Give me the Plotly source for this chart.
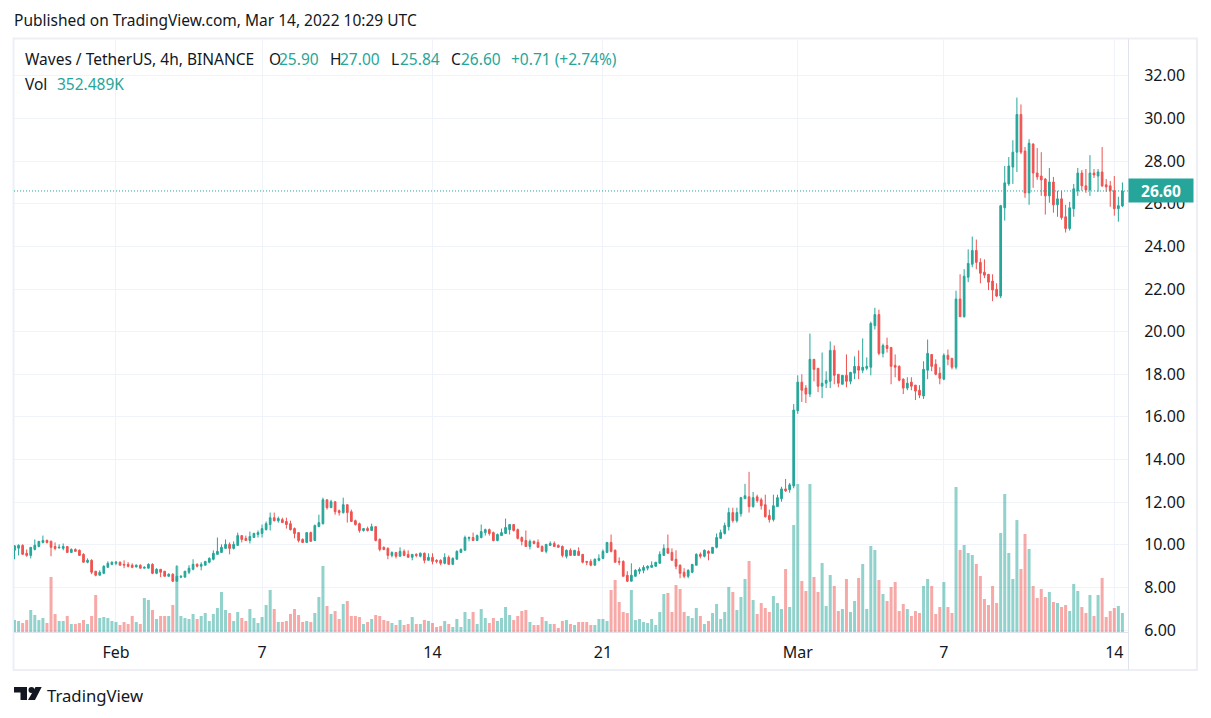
import plotly.graph_objects as go
from datetime import datetime, timedelta

opens = [
9.74,9.84,9.97,9.60,9.50,9.78,9.92,10.11,10.20,10.16,9.92,9.85,9.83,9.92,9.64,9.78,9.74,9.55,9.18,9.27,
8.76,8.57,8.66,8.94,9.08,9.13,9.18,9.08,9.08,9.04,8.96,9.04,8.90,8.90,9.08,8.66,8.85,8.76,8.52,8.62,
8.29,8.48,8.48,8.71,8.85,9.08,8.99,9.04,9.18,9.32,9.55,9.64,9.83,10.02,9.83,9.97,10.43,10.30,10.20,10.34,
10.48,10.53,10.71,10.95,11.27,11.13,11.18,11.09,10.99,10.76,10.57,10.25,10.11,10.57,10.20,10.85,10.99,12.11,11.74,12.02,
11.60,11.51,11.88,11.55,11.13,10.99,10.67,10.76,10.67,10.85,10.25,9.88,9.83,9.50,9.64,9.46,9.69,9.55,9.41,9.55,
9.46,9.60,9.27,9.41,9.27,9.27,9.13,9.41,9.08,9.32,9.64,9.74,10.30,10.34,10.20,10.34,10.57,10.71,10.57,10.20,
10.43,10.53,10.71,10.95,10.71,10.34,10.20,9.92,10.16,10.11,9.92,9.69,9.97,10.06,9.97,9.92,9.46,9.74,9.50,9.69,
9.55,9.22,9.22,9.04,9.27,9.36,9.64,10.11,9.74,9.22,9.22,8.57,8.29,8.52,8.76,8.80,8.90,8.94,8.99,9.13,
9.50,9.83,9.64,9.32,9.04,8.71,8.52,8.71,9.04,9.55,9.46,9.69,9.60,9.88,10.30,10.53,10.85,11.51,11.13,11.46,
12.16,12.25,11.79,12.25,12.11,11.88,11.37,11.18,11.79,12.16,12.62,12.58,12.76,16.29,17.63,17.35,17.07,18.70,18.28,17.44,
17.58,17.67,19.12,18.00,17.53,17.95,17.67,18.05,18.37,18.19,18.28,18.33,20.28,20.80,18.98,19.35,19.26,18.42,18.37,17.77,
17.35,17.63,17.49,17.25,16.98,18.19,18.93,18.47,18.05,17.77,18.89,18.75,18.33,21.53,20.70,22.55,23.16,23.81,23.25,22.79,
22.69,22.37,21.99,21.67,25.81,26.93,27.72,28.42,30.19,28.47,26.51,28.80,27.44,27.30,27.16,26.37,27.02,25.95,26.23,25.39,
24.84,25.77,26.61,27.44,26.84,26.65,27.44,27.30,27.49,26.89,26.84,26.61,25.77,25.90]

highs = [
9.98,10.02,10.02,9.78,9.88,10.25,10.16,10.43,10.25,10.20,10.11,10.02,10.06,9.92,9.83,9.83,9.78,9.60,9.36,9.32,
8.76,8.80,9.04,9.22,9.22,9.24,9.22,9.27,9.18,9.13,9.08,9.08,8.99,9.13,9.13,8.90,8.85,8.76,8.66,8.66,
9.04,8.57,8.76,9.04,9.32,9.13,9.18,9.22,9.41,9.74,10.34,10.02,10.25,10.11,10.16,10.57,10.43,10.43,10.62,10.57,
10.67,10.95,11.09,11.51,11.51,11.32,11.27,11.27,11.13,10.81,10.57,10.30,10.57,10.62,10.95,11.41,12.21,12.11,12.11,12.02,
11.65,12.21,11.88,11.65,11.18,11.04,10.76,10.85,10.99,10.85,10.30,9.92,9.88,9.69,9.64,9.88,9.78,9.74,9.55,9.60,
9.64,9.64,9.60,9.60,9.32,9.32,9.60,9.50,9.41,9.74,9.83,10.43,10.39,10.57,10.48,10.95,10.76,10.76,10.62,10.53,
10.76,11.23,10.95,10.95,10.76,10.39,10.67,10.25,10.20,10.25,9.97,10.02,10.16,10.16,10.02,9.97,9.78,9.83,9.74,9.88,
9.55,9.22,9.32,9.36,9.55,9.78,10.11,10.48,9.78,9.41,9.27,8.76,9.13,8.85,8.94,9.04,9.04,9.22,9.18,9.69,
10.02,10.48,9.83,9.74,9.08,8.90,8.85,9.08,9.60,9.64,9.78,9.74,9.88,10.53,10.71,11.04,11.74,11.74,11.74,12.25,
12.86,13.42,12.48,12.35,12.21,12.35,11.65,12.35,12.35,12.72,13.09,12.90,16.60,17.95,18.00,17.49,19.91,18.70,18.28,19.02,
18.14,19.54,19.35,18.00,17.95,18.93,18.09,18.84,19.12,19.68,18.79,20.47,21.12,21.03,19.44,19.72,19.26,18.93,18.42,17.81,
17.86,17.86,17.49,17.49,18.61,19.63,18.93,18.70,18.33,18.98,19.16,18.75,21.92,22.69,22.93,23.86,24.46,24.32,23.44,23.39,
22.69,22.69,22.27,25.95,27.77,28.19,28.98,30.98,30.66,28.66,29.03,28.84,28.61,28.42,27.21,27.68,27.26,26.61,26.61,25.95,
26.09,26.93,27.68,27.58,27.63,28.28,27.63,27.63,28.66,27.16,27.07,27.30,26.33,27.00]

lows = [
9.32,9.50,9.55,9.44,9.36,9.74,9.88,10.06,10.06,9.46,9.74,9.83,9.74,9.64,9.64,9.69,9.50,9.18,9.13,8.62,
8.52,8.57,8.62,8.94,9.04,9.04,9.04,8.90,8.94,8.90,8.94,8.90,8.90,8.90,8.62,8.62,8.48,8.52,8.52,8.25,
8.29,8.43,8.48,8.62,8.80,8.94,8.80,9.04,9.13,9.27,9.55,9.64,9.83,9.55,9.78,9.97,10.11,10.20,10.06,10.34,
10.34,10.34,10.67,10.67,11.09,11.04,11.04,10.76,10.67,10.30,10.11,10.11,10.11,10.16,10.20,10.85,10.95,11.65,11.74,11.41,
11.37,11.46,11.04,11.09,10.90,10.57,10.62,10.62,10.67,10.16,9.69,9.74,9.32,9.41,9.36,9.46,9.46,9.41,9.27,9.41,
9.41,9.13,9.27,9.08,9.13,9.04,9.08,9.08,9.08,9.32,9.64,9.74,10.16,10.20,10.20,10.30,10.43,10.43,10.16,10.16,
10.43,10.53,10.48,10.62,10.25,9.97,9.92,9.78,10.02,9.88,9.69,9.60,9.97,9.92,9.88,9.41,9.36,9.50,9.50,9.50,
9.13,9.04,8.99,9.04,9.22,9.32,9.64,9.64,9.18,9.04,8.52,8.25,8.29,8.52,8.62,8.66,8.80,8.94,8.99,9.13,
9.50,9.60,9.27,8.85,8.43,8.43,8.43,8.66,9.04,9.36,9.41,9.27,9.60,9.83,10.30,10.48,10.67,11.04,11.04,11.32,
12.16,11.51,11.74,11.97,11.65,11.27,11.04,11.09,11.79,12.02,12.48,12.44,12.65,16.14,16.70,16.65,16.93,17.67,17.16,16.88,
17.35,17.35,17.53,17.39,17.53,17.39,17.53,17.77,17.77,18.05,18.19,17.95,20.10,18.89,18.79,19.02,17.53,17.86,17.67,17.07,
17.25,17.25,16.79,16.88,16.84,17.77,18.14,17.95,17.53,17.72,18.42,18.23,18.23,20.70,20.66,22.32,23.02,22.93,22.27,22.51,
21.95,21.43,21.62,21.57,25.21,26.84,26.93,27.49,28.33,26.28,25.95,26.75,27.12,26.37,25.49,26.05,25.58,25.39,25.25,24.65,
24.74,25.39,26.37,26.61,26.51,26.37,27.21,26.56,26.79,26.56,25.86,25.44,25.16,25.84]

closes = [
9.95,9.97,9.55,9.50,9.88,9.98,10.16,10.20,10.11,9.88,9.83,9.88,9.92,9.64,9.78,9.69,9.50,9.18,9.27,8.71,
8.57,8.71,8.99,9.13,9.18,9.18,9.04,9.05,8.99,8.94,9.04,8.90,8.94,9.08,8.66,8.85,8.71,8.52,8.62,8.29,
8.52,8.52,8.76,8.90,9.08,8.99,9.08,9.22,9.36,9.60,9.69,9.88,10.02,9.83,10.02,10.43,10.25,10.20,10.39,10.53,
10.57,10.76,10.99,11.27,11.13,11.23,11.04,10.95,10.71,10.53,10.20,10.11,10.57,10.16,10.90,11.04,12.11,11.74,12.02,11.55,
11.51,11.88,11.51,11.09,10.95,10.67,10.76,10.67,10.85,10.20,9.78,9.78,9.50,9.64,9.46,9.69,9.50,9.41,9.55,9.50,
9.60,9.27,9.41,9.22,9.22,9.13,9.41,9.08,9.36,9.69,9.78,10.34,10.34,10.20,10.43,10.62,10.71,10.53,10.20,10.48,
10.57,10.81,10.95,10.67,10.30,10.16,9.92,10.16,10.06,9.88,9.69,10.02,10.06,9.92,9.88,9.50,9.74,9.50,9.74,9.50,
9.18,9.18,9.04,9.32,9.36,9.69,10.11,9.69,9.18,9.18,8.52,8.29,8.57,8.80,8.85,8.94,8.99,9.04,9.18,9.55,
9.83,9.60,9.27,8.99,8.66,8.52,8.80,9.08,9.55,9.46,9.74,9.60,9.88,10.34,10.57,10.90,11.51,11.13,11.51,12.21,
12.30,11.79,12.21,12.07,11.83,11.32,11.18,11.83,12.21,12.62,12.53,12.81,16.32,17.63,17.25,17.07,18.70,18.23,17.44,17.58,
17.72,19.12,17.95,17.58,17.95,17.67,18.09,18.37,18.19,18.33,18.37,20.38,20.80,18.98,19.35,19.21,18.37,18.33,17.72,17.35,
17.58,17.44,17.21,17.02,18.23,18.98,18.37,18.00,17.81,18.89,18.70,18.33,21.53,20.70,22.60,23.20,23.81,23.25,22.74,22.65,
22.32,21.95,21.67,25.91,26.98,27.77,28.42,30.19,28.42,26.51,28.84,27.44,27.26,27.12,26.37,27.02,25.95,26.23,25.35,24.84,
25.81,26.70,27.44,26.84,26.65,27.44,27.35,27.49,26.84,26.79,26.61,25.77,25.91,26.60]

volumes_k = [
222,204,167,222,408,315,222,260,167,1020,334,204,204,297,148,148,167,222,148,297,
686,260,278,260,204,185,130,185,148,297,185,148,630,593,408,241,297,297,297,501,
1224,297,260,241,334,241,297,352,204,334,445,742,408,352,204,371,260,204,426,260,
167,278,501,779,426,185,185,204,334,426,315,185,204,185,352,649,1224,482,334,389,
241,519,575,297,297,278,148,185,241,315,297,222,204,167,130,222,130,148,278,148,
148,222,204,167,93,111,204,148,93,241,93,371,241,371,148,426,260,167,260,204,
260,464,315,222,297,389,408,185,130,130,278,204,148,148,74,204,222,148,130,185,
185,185,130,130,241,241,204,779,964,556,371,352,779,222,241,185,167,241,130,371,
705,723,371,871,797,371,297,260,445,297,148,204,352,519,241,371,834,742,408,649,
983,1316,593,334,538,445,371,667,538,426,1168,464,1984,2744,946,760,2744,1020,742,1279,
482,1057,853,389,426,983,371,575,1001,1261,426,1594,1520,964,705,575,834,927,389,519,
426,297,389,352,853,983,853,334,464,927,464,352,2688,1520,1613,1465,1428,1261,1038,612,
501,853,538,1835,2559,1465,983,2076,1168,1817,1539,853,630,797,649,742,556,538,464,501,
389,890,760,464,352,686,297,686,1001,278,389,445,482,352.489]

price_ticks = [6,8,10,12,14,16,18,20,22,24,26,28,30,32]
date_ticks = ["2022-02-01","2022-02-07","2022-02-14","2022-02-21","2022-03-01","2022-03-07","2022-03-14"]
date_labels = ["Feb","7","14","21","Mar","7","14"]

assert len(opens)==len(highs)==len(lows)==len(closes)==len(volumes_k)==274, (len(opens),len(highs),len(lows),len(closes),len(volumes_k))

t0 = datetime(2022,1,27,20)
times = [t0+timedelta(hours=4*i) for i in range(len(opens))]

UP="#26a69a"; DOWN="#ef5350"; UPV="rgba(38,166,154,0.5)"; DOWNV="rgba(239,83,80,0.5)"
INK="#131722"; GRID="#f0f3fa"; FRAME="#eeeff5"; AXIS="#e0e3eb"
FONT="Noto Sans, sans-serif"
HEAD=15.5

L,R,T,B=14,1128,39,633
W,H=1211,718
def px(x): return (x-L)/(R-L)
def py(y): return (B-y)/(B-T)

vol_colors=[UPV if c>=o else DOWNV for o,c in zip(opens,closes)]

fig=go.Figure()
fig.add_trace(go.Bar(x=times,y=volumes_k,marker=dict(color=vol_colors,line_width=0),width=3.0/4.057*4*3600*1000,yaxis="y",hoverinfo="skip"))
fig.add_trace(go.Candlestick(x=times,open=opens,high=highs,low=lows,close=closes,yaxis="y2",
    increasing=dict(line=dict(color=UP,width=1),fillcolor=UP),
    decreasing=dict(line=dict(color=DOWN,width=1),fillcolor=DOWN),whiskerwidth=0))

shapes=[
 dict(type="rect",xref="paper",yref="paper",x0=px(13.5),x1=px(1197),y0=py(670),y1=py(38.5),line=dict(color=FRAME,width=2),layer="below"),
 dict(type="line",xref="paper",yref="paper",x0=px(1128.5),x1=px(1128.5),y0=py(670),y1=py(39),line=dict(color=AXIS,width=1)),
 dict(type="line",xref="paper",yref="paper",x0=px(14),x1=px(1128),y0=py(632.5),y1=py(632.5),line=dict(color=AXIS,width=1)),
 dict(type="line",xref="paper",yref="y2",x0=0,x1=1,y0=closes[-1],y1=closes[-1],line=dict(color=UP,width=1,dash="1px,2px")),
 # TradingView logo
 dict(type="path",xref="paper",yref="paper",fillcolor=INK,line_width=0,
      path=f"M{px(14)},{py(687)} L{px(27)},{py(687)} L{px(27)},{py(700)} L{px(20.5)},{py(700)} L{px(20.5)},{py(692.5)} L{px(14)},{py(692.5)} Z"),
 dict(type="circle",xref="paper",yref="paper",fillcolor=INK,line_width=0,x0=px(28.5),x1=px(34.5),y0=py(693),y1=py(687)),
 dict(type="path",xref="paper",yref="paper",fillcolor=INK,line_width=0,
      path=f"M{px(35.5)},{py(687)} L{px(41.7)},{py(687)} L{px(35)},{py(700)} L{px(28)},{py(700)} Z"),
]

def txt(x,y,s,color=INK,size=HEAD,**kw):
    return dict(xref="paper",yref="paper",x=px(x-2),y=py(y),text=s,showarrow=False,xanchor="left",yanchor="middle",
                font=dict(family=FONT,size=size,color=color),**kw)

anns=[
 txt(14,20,"Published on TradingView.com, Mar 14, 2022 10:29 UTC"),
 txt(25,59.5,"Waves / TetherUS, 4h, BINANCE"),
 txt(269,59.5,"O"),txt(279,59.5,f"{opens[-1]:.2f}",UP),
 txt(330,59.5,"H"),txt(340,59.5,f"{highs[-1]:.2f}",UP),
 txt(391,59.5,"L"),txt(400,59.5,f"{lows[-1]:.2f}",UP),
 txt(451,59.5,"C"),txt(461,59.5,f"{closes[-1]:.2f}",UP),
 txt(511,59.5,"+0.71 (+2.74%)",UP),
 txt(25,83.5,"Vol"),txt(57,83.5,"352.489K",UP),
 txt(47,695,"TradingView",size=16.7),
 dict(xref="paper",yref="y2",x=px(1161),y=closes[-1],text=f"<b>{closes[-1]:.2f}</b>",showarrow=False,xanchor="center",yanchor="middle",
      font=dict(family=FONT,size=15.5,color="#ffffff"),bgcolor=UP,borderpad=3,width=58,height=17),
]

fig.update_layout(
 width=W,height=H,margin=dict(l=L,r=W-R,t=T,b=H-B,autoexpand=False),
 paper_bgcolor="#ffffff",plot_bgcolor="#ffffff",showlegend=False,boxgap=0.4,
 font=dict(family=FONT,size=14,color=INK),
 xaxis=dict(type="date",range=["2022-01-27 19:30","2022-03-14 13:30"],rangeslider=dict(visible=False),
   tickmode="array",tickvals=date_ticks,ticktext=date_labels,showgrid=True,gridcolor=GRID,gridwidth=1,
   ticks="outside",ticklen=5,tickcolor="rgba(0,0,0,0)",zeroline=False,showline=False,tickfont=dict(family=FONT,size=16,color=INK)),
 yaxis=dict(range=[-18.5,10994],visible=False,fixedrange=True),
 yaxis2=dict(overlaying="y",side="right",anchor="x",range=[5.86,33.73],tickmode="array",tickvals=price_ticks,
   tickformat=".2f",showgrid=True,gridcolor=GRID,gridwidth=1,zeroline=False,showline=False,
   ticks="outside",ticklen=12,tickcolor="rgba(0,0,0,0)",tickfont=dict(family=FONT,size=16,color=INK)),
 shapes=shapes,annotations=anns,
)
fig.write_html("out.html",config=dict(displayModeBar=False),post_script="document.body.style.margin='0';document.documentElement.style.overflow='hidden';")
